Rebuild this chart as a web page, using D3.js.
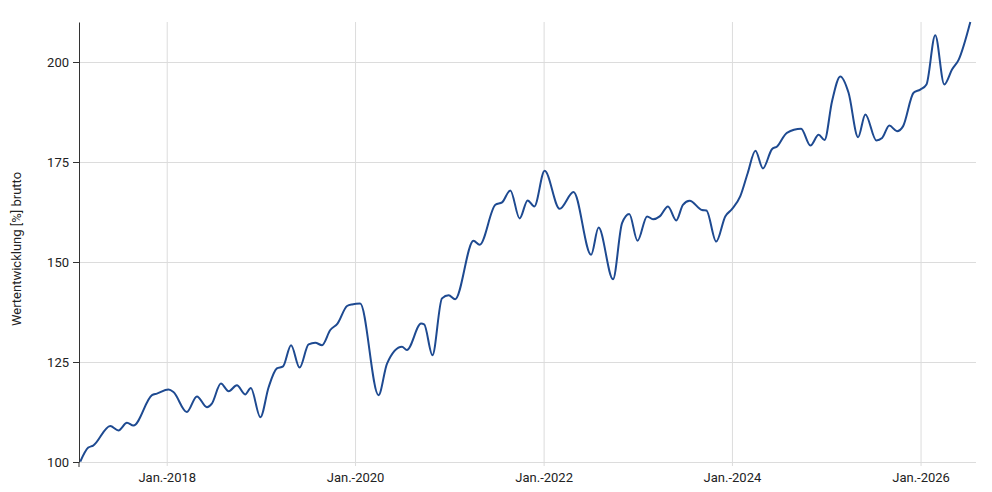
<!DOCTYPE html>
<html>
<head>
<meta charset="utf-8">
<script src="https://cdn.jsdelivr.net/npm/d3@7"></script>
<style>
  body { margin: 0; background: #fff; }
  .chart text { font-family: Roboto, "Noto Sans", sans-serif; fill: #222; }
</style>
</head>
<body>
<div class="chart"></div>
<script>
// values (feature points, curve drawn through them)
const dates = [
  "2017-01-31","2017-03-03","2017-03-22","2017-05-27","2017-06-28","2017-07-31","2017-08-25",
  "2017-11-05","2017-11-24","2018-01-08","2018-01-27","2018-03-20","2018-04-28","2018-06-06",
  "2018-06-25","2018-07-30","2018-08-29","2018-09-30","2018-11-01","2018-11-23","2018-12-30",
  "2019-01-31","2019-03-04","2019-03-28","2019-04-28","2019-05-31","2019-07-05","2019-07-31",
  "2019-08-26","2019-09-27","2019-10-25","2019-12-01","2019-12-20","2020-01-21","2020-04-01",
  "2020-05-04","2020-07-01","2020-07-20","2020-09-13","2020-09-25","2020-10-27","2020-12-03",
  "2020-12-29","2021-01-23","2021-04-04","2021-04-28","2021-06-28","2021-07-24","2021-08-25",
  "2021-09-30","2021-10-31","2021-11-26","2022-01-05","2022-03-04","2022-04-27","2022-07-04",
  "2022-08-02","2022-09-27","2022-11-01","2022-11-29","2022-12-31","2023-02-06","2023-03-01",
  "2023-03-27","2023-04-28","2023-05-30","2023-06-25","2023-07-21","2023-09-07","2023-09-24",
  "2023-11-01","2023-12-06","2024-01-01","2024-02-02","2024-03-02","2024-04-01","2024-04-30",
  "2024-06-04","2024-06-24","2024-08-01","2024-09-25","2024-10-31","2024-12-02","2024-12-25",
  "2025-01-23","2025-02-24","2025-03-28","2025-05-04","2025-06-01","2025-07-14","2025-08-05",
  "2025-09-02","2025-10-02","2025-10-25","2025-12-05","2025-12-31","2026-01-24","2026-02-27",
  "2026-04-03","2026-05-03","2026-05-29","2026-07-13"
];
const values = [
  100.1, 103.6, 104.1, 109.0, 107.9, 109.8, 109.1,
  116.7, 117.1, 118.1, 117.5, 112.5, 116.4, 113.7,
  114.6, 119.6, 117.7, 119.2, 116.9, 118.5, 111.2,
  118.7, 123.4, 123.9, 129.2, 123.6, 129.4, 129.8,
  129.2, 133.0, 134.6, 139.0, 139.4, 139.6, 116.7,
  124.6, 128.8, 128.0, 134.6, 134.4, 126.7, 140.9,
  141.7, 140.7, 155.3, 154.3, 164.3, 164.9, 167.9,
  160.9, 165.4, 163.9, 172.8, 163.3, 167.5, 151.8,
  158.6, 145.7, 159.7, 162.0, 155.3, 161.4, 160.7,
  161.4, 163.9, 160.4, 164.3, 165.3, 163.0, 162.9,
  155.1, 161.4, 163.2, 166.4, 172.2, 177.8, 173.4,
  178.2, 178.9, 182.3, 183.3, 179.1, 181.8, 180.5,
  190.2, 196.4, 192.3, 181.2, 186.9, 180.4, 181.0,
  184.1, 182.7, 183.9, 192.3, 193.1, 194.4, 206.7,
  194.4, 198.1, 200.6, 210.0
];
const xTicks = ["2018-01-01","2020-01-01","2022-01-01","2024-01-01","2026-01-01"];
const yTicks = [100, 125, 150, 175, 200];
const xRange = ["2017-01-26","2026-08-04"];
const yRange = [100, 210];
const yLabel = "Wertentwicklung [%] brutto";

const parse = d3.timeParse("%Y-%m-%d");
const data = dates.map((d, i) => ({ date: parse(d), value: values[i] }));

let margin = {top: 22, right: 16, bottom: 30, left: 79},
    width = 992 - margin.left - margin.right,
    height = 492 - margin.top - margin.bottom;

let svg = d3.select(".chart")
    .append("svg")
    .attr("width", 992)
    .attr("height", 492)
    .append("g")
    .attr("transform", "translate(" + margin.left + "," + margin.top + ")");

let x = d3.scaleTime()
    .domain(xRange.map(parse))
    .range([0, width]);

let y = d3.scaleLinear()
    .domain(yRange)
    .range([height, 0]);

// horizontal grid
svg.append("g")
    .call(d3.axisLeft(y).tickValues(yTicks).tickSize(-width).tickFormat(""))
    .call(g => g.select(".domain").remove())
    .call(g => g.selectAll("line").attr("stroke", "#dcdcdc"));

// vertical grid + x labels
svg.append("g")
    .attr("transform", "translate(0," + height + ")")
    .call(d3.axisBottom(x)
        .tickValues(xTicks.map(parse))
        .tickSizeInner(-height - 4)
        .tickSizeOuter(0)
        .tickPadding(8)
        .tickFormat(d3.timeFormat("Jan.-%Y")))
    .call(g => g.select(".domain").remove())
    .call(g => g.selectAll("line").attr("stroke", "#dcdcdc").attr("transform", "translate(0,4)"))
    .call(g => g.selectAll("text").attr("dy", "0.9em").style("font-size", "13px").attr("fill", "#222"));

// y axis
svg.append("g")
    .call(d3.axisLeft(y).tickValues(yTicks).tickSizeInner(6).tickSizeOuter(0).tickPadding(4))
    .call(g => g.select(".domain").attr("stroke", "#333"))
    .call(g => g.selectAll("line").attr("stroke", "#333"))
    .call(g => g.selectAll("text").style("font-size", "13px").attr("fill", "#222"));

// small tick below the axis corner
svg.append("line")
    .attr("x1", 0).attr("x2", 0)
    .attr("y1", height).attr("y2", height + 5)
    .attr("stroke", "#333");

// y label
svg.append("text")
    .attr("text-anchor", "middle")
    .attr("transform", "translate(" + (-58) + "," + 227 + ")rotate(-90)")
    .style("font-size", "13px")
    .text(yLabel);

// the line
let line = d3.line()
    .x(d => x(d.date))
    .y(d => y(d.value))
    .curve(d3.curveMonotoneX);

svg.append("path")
    .datum(data)
    .attr("fill", "none")
    .attr("stroke", "#1e4a91")
    .attr("stroke-width", 2)
    .attr("d", line);
</script>
</body>
</html>
